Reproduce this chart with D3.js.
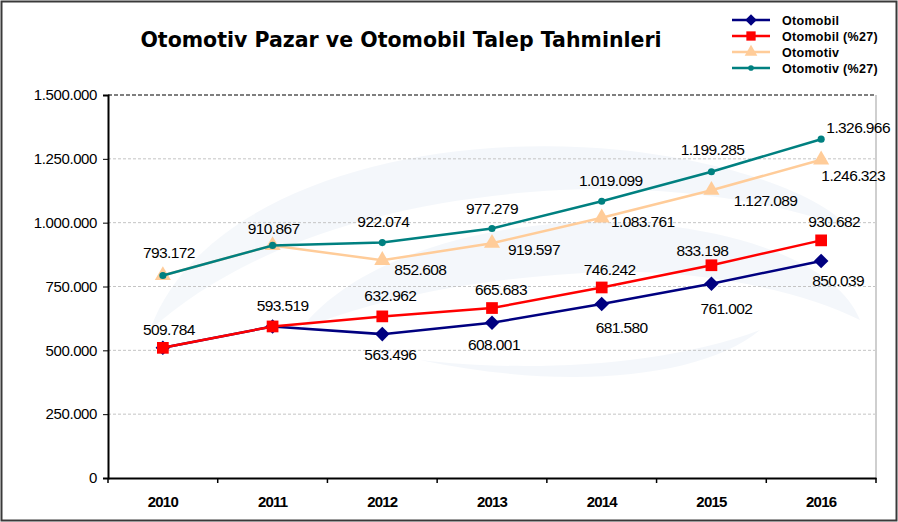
<!DOCTYPE html>
<html lang="tr">
<head>
<meta charset="utf-8">
<script src="https://d3js.org/d3.v7.min.js"></script>
<style>
  body { margin: 0; background: #fff; }
  svg text { font-family: "Liberation Sans", Arial, sans-serif; fill: #000; }
</style>
</head>
<body>
<script>
// yillar ve seriler
const years = ["2010", "2011", "2012", "2013", "2014", "2015", "2016"];
const otomobil = [509784, 593519, 563496, 608001, 681580, 761002, 850039];
const otomobil27 = [509784, 593519, 632962, 665683, 746242, 833198, 930682];
const otomotiv = [793172, 910867, 852608, 919597, 1019099, 1127089, 1246323];
const otomotiv27 = [793172, 910867, 922074, 977279, 1083761, 1199285, 1326966];
const yTicks = [0, 250000, 500000, 750000, 1000000, 1250000, 1500000];
const seriesNames = ["Otomobil", "Otomobil (%27)", "Otomotiv", "Otomotiv (%27)"];

// etiket kaydirmalari (nokta merkezine gore), null = etiket yok
const labelOffsets = [
  [null, null, [8, 26], [2, 27], [20, 29], [15, 30], [17, 25]],
  [[6, -13], [10, -15], [8, -15], [9, -13], [8, -12], [-9, -9], [13, -13]],
  [null, null, [38, 15], [42, 12], [9, -32], [54, 16], [32, 21]],
  [[6, -17], [1, -11], [1, -16], [0, -14], [41, 26], [1, -17], [37, -6]]
];

const W = 898, H = 522;
const margin = {left: 108, right: 22, top: 95, bottom: 44};

const svg = d3.select("body").append("svg")
  .attr("width", W).attr("height", H);

const tr = d3.formatLocale({decimal: ",", thousands: ".", grouping: [3], currency: ["", ""]});
const fmt = tr.format(",d");

const x = d3.scaleBand().domain(years)
  .range([margin.left, W - margin.right]);
const y = d3.scaleLinear().domain([0, 1500000])
  .range([H - margin.bottom, margin.top]);

// dis cerceve
svg.append("rect")
  .attr("x", 1.5).attr("y", 1.5)
  .attr("width", W - 3).attr("height", H - 3)
  .attr("fill", "#fff").attr("stroke", "#3a3a3a").attr("stroke-width", 2);

// silik logo
const wm = svg.append("g").attr("fill", "#f1f5fa").attr("opacity", 0.75);
wm.append("path").attr("d",
  "M150,330 C200,190 420,130 620,150 C740,162 830,200 850,230 C780,200 660,185 560,190 C380,200 240,250 150,330 Z");
wm.append("path").attr("d",
  "M300,330 C360,250 520,210 660,225 C760,236 840,270 860,320 C800,290 700,270 610,272 C480,276 370,300 300,330 Z");
wm.append("path").attr("d",
  "M420,360 C520,372 660,368 760,330 C700,380 560,390 420,360 Z");

// izgara
svg.append("g").selectAll("line")
  .data(yTicks.filter(d => d > 0 && d < 1500000))
  .join("line")
  .attr("x1", margin.left).attr("x2", W - margin.right)
  .attr("y1", d => y(d)).attr("y2", d => y(d))
  .attr("stroke", "#c4c4c4").attr("stroke-dasharray", "3,2");

svg.append("line")
  .attr("x1", margin.left).attr("x2", W - margin.right)
  .attr("y1", y(1500000)).attr("y2", y(1500000))
  .attr("stroke", "#555").attr("stroke-width", 1.5).attr("stroke-dasharray", "4,2");

svg.append("line")
  .attr("x1", W - margin.right).attr("x2", W - margin.right)
  .attr("y1", y(1500000)).attr("y2", y(0))
  .attr("stroke", "#cfcfcf").attr("stroke-width", 2);

// eksenler
const yAxis = svg.append("g")
  .attr("transform", "translate(" + margin.left + ",0)")
  .call(d3.axisLeft(y).tickValues(yTicks).tickFormat(fmt).tickSize(5).tickPadding(6));
yAxis.select(".domain").attr("stroke-width", 2);
yAxis.selectAll("text").style("font-size", "15px").style("letter-spacing", "-0.4px");

const xAxis = svg.append("g")
  .attr("transform", "translate(0," + y(0) + ")")
  .call(d3.axisBottom(x).tickSize(0).tickPadding(18));
xAxis.select(".domain").attr("stroke-width", 2);
xAxis.selectAll("text").style("font-size", "15px").style("font-weight", "bold")
  .style("letter-spacing", "-0.8px");
xAxis.selectAll(".bnd").data(years.concat(["end"])).join("line")
  .attr("class", "bnd")
  .attr("x1", (d, i) => margin.left + i * x.step())
  .attr("x2", (d, i) => margin.left + i * x.step())
  .attr("y1", 0).attr("y2", 5)
  .attr("stroke", "#000").attr("stroke-width", 1.5);

// seriler
const series = [
  {name: seriesNames[0], values: otomobil, color: "#000080", marker: "diamond"},
  {name: seriesNames[1], values: otomobil27, color: "#ff0000", marker: "square"},
  {name: seriesNames[2], values: otomotiv, color: "#ffcc99", marker: "triangle"},
  {name: seriesNames[3], values: otomotiv27, color: "#008080", marker: "circle"}
];

const symbolFor = {
  diamond: d3.symbol().type(d3.symbolDiamond2).size(135),
  square: d3.symbol().type(d3.symbolSquare2).size(175),
  triangle: d3.symbol().type(d3.symbolTriangle2).size(185),
  circle: d3.symbol().type(d3.symbolCircle).size(40)
};

const line = d3.line()
  .x((d, i) => x(years[i]) + x.bandwidth() / 2)
  .y(d => y(d));

series.forEach(function(s) {
  const g = svg.append("g");
  g.append("path")
    .attr("d", line(s.values))
    .attr("fill", "none")
    .attr("stroke", s.color)
    .attr("stroke-width", 2.5);
  g.selectAll("path.m").data(s.values).join("path")
    .attr("class", "m")
    .attr("transform", (d, i) => "translate(" + (x(years[i]) + x.bandwidth() / 2) + "," + y(d) + ")")
    .attr("d", symbolFor[s.marker]())
    .attr("fill", s.color);
});

// veri etiketleri
series.forEach(function(s, si) {
  svg.append("g").selectAll("text")
    .data(s.values.map((v, i) => ({v: v, i: i, off: labelOffsets[si][i]})).filter(d => d.off))
    .join("text")
    .attr("x", d => x(years[d.i]) + x.bandwidth() / 2 + d.off[0])
    .attr("y", d => y(d.v) + d.off[1])
    .attr("text-anchor", "middle")
    .style("font-size", "15.5px")
    .style("letter-spacing", "-0.6px")
    .text(d => fmt(d.v));
});

// baslik
svg.append("text")
  .attr("x", 401).attr("y", 47)
  .attr("text-anchor", "middle")
  .style("font-family", "'DejaVu Sans', sans-serif")
  .style("font-size", "20.5px")
  .style("font-weight", "bold")
  .text("Otomotiv Pazar ve Otomobil Talep Tahminleri");

// lejant
const legend = svg.append("g").attr("transform", "translate(732,20)");
const li = legend.selectAll("g").data(series).join("g")
  .attr("transform", (d, i) => "translate(0," + i * 16 + ")");
li.append("line").attr("x1", 0).attr("x2", 38)
  .attr("stroke", d => d.color).attr("stroke-width", 2.5);
li.append("path")
  .attr("transform", "translate(19,0)")
  .attr("d", d => d3.symbol().type({diamond: d3.symbolDiamond2, square: d3.symbolSquare2,
    triangle: d3.symbolTriangle2, circle: d3.symbolCircle}[d.marker])
    .size({diamond: 85, square: 110, triangle: 115, circle: 25}[d.marker])())
  .attr("fill", d => d.color);
li.append("text").attr("x", 50).attr("y", 4.5)
  .style("font-size", "12.5px").style("font-weight", "bold")
  .style("letter-spacing", "0.3px")
  .text(d => d.name);
</script>
</body>
</html>
